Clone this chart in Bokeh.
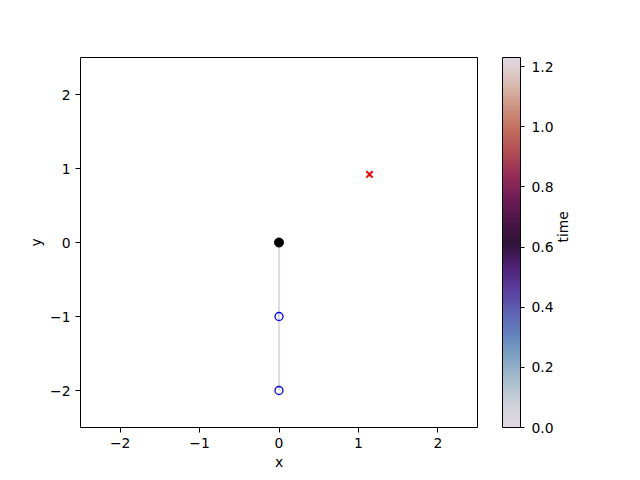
import numpy as np
from bokeh.plotting import figure
from bokeh.models import (Range1d, ColorBar, LinearColorMapper, LinearAxis,
                          FixedTicker, PrintfTickFormatter)
from bokeh.embed import file_html
from bokeh.resources import INLINE

# ---- data ----
base_x = [0.0]
base_y = [0.0]
joint_x = [0.0, 0.0]
joint_y = [-1.0, -2.0]
link_x = [0.0, 0.0, 0.0]
link_y = [0.0, -1.0, -2.0]
target_x = [1.14]
target_y = [0.92]
time_min = 0.0
time_max = 1.23
x_ticks = [-2, -1, 0, 1, 2]
y_ticks = [-2, -1, 0, 1, 2]
cbar_ticks = [0.0, 0.2, 0.4, 0.6, 0.8, 1.0, 1.2]

# twilight-like palette anchors (style)
anchors = [
    (0.0, (226, 217, 226)), (0.0625, (205, 208, 217)), (0.125, (168, 190, 205)),
    (0.1875, (128, 163, 195)), (0.25, (99, 131, 189)), (0.3125, (94, 97, 179)),
    (0.375, (90, 60, 157)), (0.4375, (77, 32, 115)), (0.5, (47, 20, 55)),
    (0.5625, (78, 22, 72)), (0.625, (115, 30, 86)), (0.6875, (152, 47, 86)),
    (0.75, (180, 78, 84)), (0.8125, (196, 113, 98)), (0.875, (207, 152, 133)),
    (0.9375, (218, 191, 185)), (1.0, (226, 217, 226)),
]
pos = np.array([a[0] for a in anchors])
rgb = np.array([a[1] for a in anchors], dtype=float)
t = np.linspace(0, 1, 256)
palette = []
for v in t:
    c = [int(round(np.interp(v, pos, rgb[:, k]))) for k in range(3)]
    palette.append("#%02x%02x%02x" % tuple(c))

FONT = "DejaVu Sans"
FS = "13.9px"

p = figure(frame_width=397, frame_height=370,
           x_range=Range1d(-2.5, 2.5), y_range=Range1d(-2.5, 2.5),
           output_backend="svg", toolbar_location=None,
           min_border_left=80, min_border_top=57, min_border_bottom=50,
           min_border_right=150, background_fill_color="white",
           border_fill_color="white")
p.grid.visible = False
p.outline_line_color = "black"
p.outline_line_width = 1

for ax, ticks, lab in ((p.xaxis[0], x_ticks, "x"), (p.yaxis[0], y_ticks, "y")):
    ax.ticker = FixedTicker(ticks=ticks)
    ax.axis_label = lab
    ax.axis_line_color = None
    ax.major_tick_in = 0
    ax.major_tick_out = 5
    ax.minor_tick_line_color = None
    ax.major_tick_line_color = "black"
    ax.major_label_text_font = FONT
    ax.major_label_text_font_size = FS
    ax.major_label_text_color = "black"
    ax.major_label_standoff = 5
    ax.axis_label_text_font = FONT
    ax.axis_label_text_font_size = FS
    ax.axis_label_text_font_style = "normal"
    ax.axis_label_text_color = "black"
p.xaxis[0].axis_label_standoff = 3
p.yaxis[0].axis_label_standoff = 3

mapper = LinearColorMapper(palette=palette, low=time_min, high=time_max)

p.line(link_x, link_y, line_color=palette[0], line_width=2)
p.scatter(joint_x, joint_y, marker="circle", size=8, fill_color=None,
          line_color="blue", line_width=1.3)
p.scatter(base_x, base_y, marker="circle", size=9, fill_color="black",
          line_color="black")
p.scatter(target_x, target_y, marker="x", size=9, line_color="red",
          line_width=2)

cb = ColorBar(color_mapper=mapper, width=18, height=370, location=(25, 0),
              padding=0, margin=0,
              ticker=FixedTicker(ticks=cbar_ticks),
              formatter=PrintfTickFormatter(format="%.1f"),
              major_tick_in=0, major_tick_out=4,
              major_tick_line_color="black", minor_tick_line_color=None,
              bar_line_color="black", bar_line_width=1,
              major_label_text_font=FONT, major_label_text_font_size=FS,
              major_label_text_color="black", label_standoff=7,
              background_fill_color=None)
p.add_layout(cb, "right")

# colorbar title as a tick-less axis label on the right
title_axis = LinearAxis(axis_label="time", axis_line_color=None,
                        major_tick_line_color=None, minor_tick_line_color=None,
                        major_label_text_font_size="0px",
                        axis_label_text_font=FONT, axis_label_text_font_size=FS,
                        axis_label_text_font_style="normal",
                        axis_label_text_color="black", axis_label_standoff=6,
                        ticker=FixedTicker(ticks=[]))
try:
    title_axis.axis_label_orientation = np.pi / 2
except Exception:
    pass
p.add_layout(title_axis, "right")

open("out.html", "w").write(file_html(p, INLINE))
